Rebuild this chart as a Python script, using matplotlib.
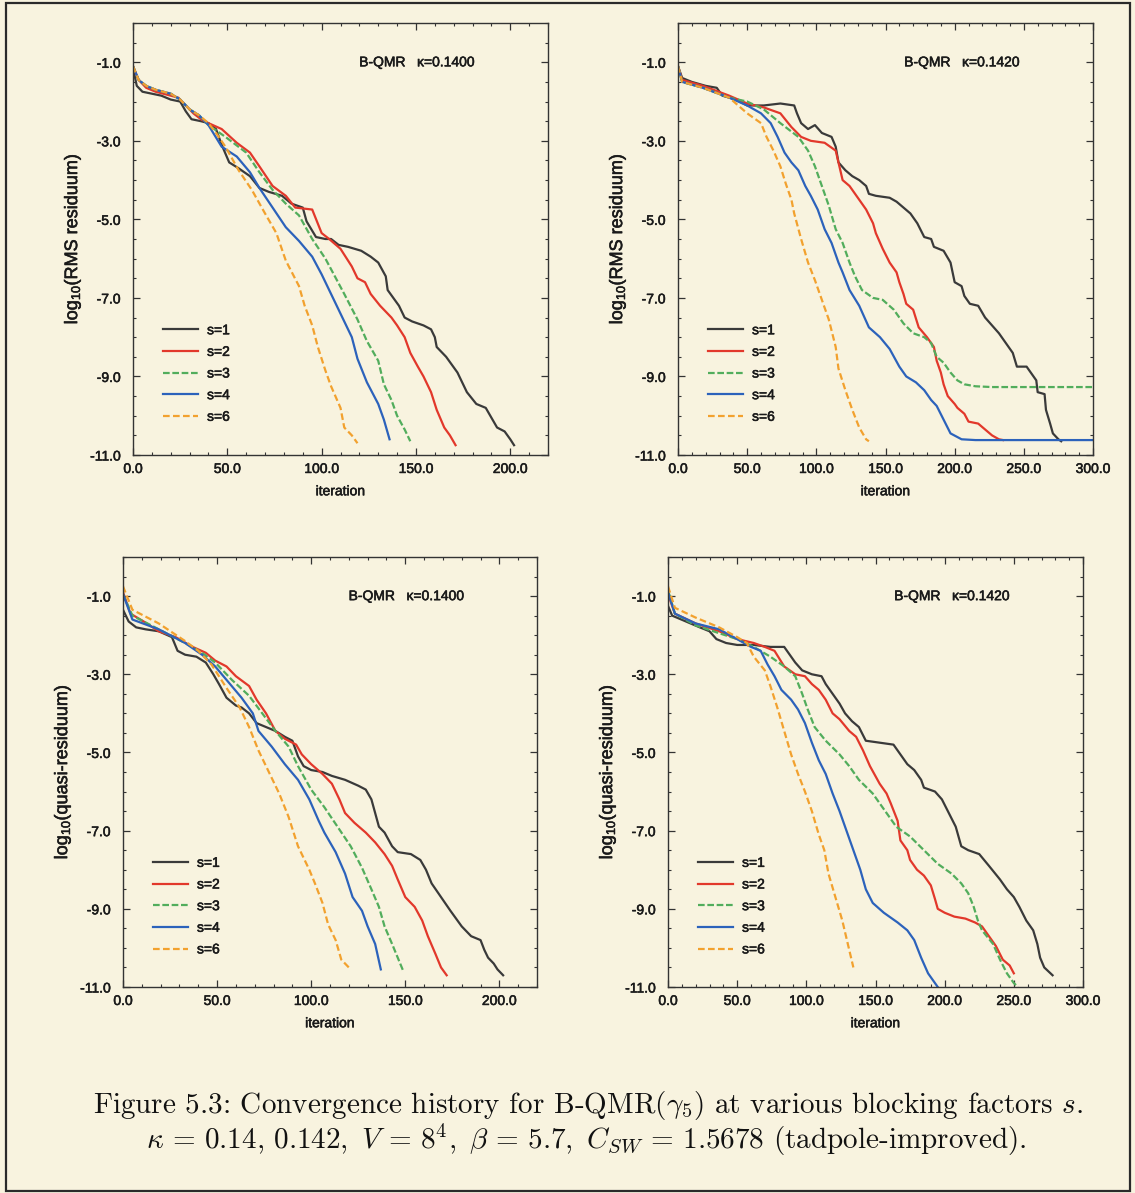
import matplotlib
matplotlib.use("Agg")
import matplotlib.pyplot as plt
import matplotlib.patheffects as pe
from matplotlib.ticker import MultipleLocator, FormatStrFormatter
from matplotlib.patches import Rectangle

plt.rcParams["font.family"] = ["Liberation Sans", "DejaVu Sans"]
plt.rcParams["axes.unicode_minus"] = False
plt.rcParams["mathtext.fontset"] = "custom"
plt.rcParams["mathtext.rm"] = "Liberation Sans"
plt.rcParams["mathtext.it"] = "Liberation Sans:italic"

# (iteration, log10 residual) pairs per blocking factor s

# RMS residuum, kappa = 0.1400
rms140_s1 = [(0, -1.15), (2, -1.6), (5, -1.75), (10, -1.8), (15, -1.85), (20, -1.95), (25, -2.0),
             (28, -2.25), (31, -2.45), (36, -2.5), (40, -2.55), (44, -2.7), (47, -3.1), (51, -3.55),
             (56, -3.7), (62, -3.9), (67, -4.2), (72, -4.3), (79, -4.4), (84, -4.6), (90, -4.7),
             (92, -5.05), (97, -5.45), (102, -5.5), (105, -5.5), (109, -5.65), (114, -5.7),
             (121, -5.8), (126, -5.95), (130, -6.1), (134, -6.45), (135, -6.8), (138, -7.0),
             (141, -7.2), (144, -7.5), (148, -7.6), (154, -7.7), (158, -7.8), (160, -8.0),
             (161, -8.25), (166, -8.5), (172, -8.9), (177, -9.4), (182, -9.7), (187, -9.8),
             (190, -10.05), (193, -10.3), (197, -10.4), (200, -10.6), (202, -10.75)]
rms140_s2 = [(0, -1.1), (3, -1.45), (7, -1.65), (12, -1.75), (20, -1.85), (24, -1.9), (28, -2.1),
             (32, -2.3), (36, -2.45), (40, -2.55), (47, -2.7), (55, -3.05), (62, -3.3), (67, -3.65),
             (74, -4.15), (81, -4.4), (86, -4.7), (95, -4.75), (100, -5.35), (104, -5.5),
             (110, -5.75), (116, -6.2), (119, -6.5), (123, -6.6), (126, -6.9), (131, -7.2),
             (137, -7.5), (140, -7.7), (144, -8.0), (147, -8.4), (151, -8.75), (154, -9.0),
             (158, -9.4), (161, -9.85), (165, -10.3), (168, -10.5), (171, -10.75)]
rms140_s3 = [(0, -1.1), (3, -1.45), (7, -1.6), (12, -1.7), (20, -1.8), (25, -1.95), (30, -2.2),
             (35, -2.35), (40, -2.6), (49, -2.9), (60, -3.3), (67, -3.8), (74, -4.25), (81, -4.6),
             (88, -4.9), (95, -5.5), (102, -6.0), (107, -6.45), (112, -6.9), (119, -7.55),
             (124, -8.1), (130, -8.6), (133, -9.2), (137, -9.6), (140, -10.0), (144, -10.35),
             (147, -10.65)]
rms140_s4 = [(0, -1.1), (3, -1.45), (7, -1.6), (12, -1.7), (20, -1.8), (25, -1.95), (30, -2.2),
             (35, -2.35), (40, -2.6), (47, -3.15), (55, -3.4), (62, -3.8), (67, -4.2), (74, -4.7),
             (81, -5.2), (88, -5.55), (95, -5.95), (100, -6.4), (105, -6.9), (111, -7.5),
             (116, -8.0), (119, -8.55), (124, -9.15), (130, -9.7), (133, -10.1), (136, -10.6)]
rms140_s6 = [(0, -1.1), (3, -1.45), (7, -1.6), (12, -1.7), (20, -1.8), (25, -1.95), (30, -2.2),
             (35, -2.35), (40, -2.55), (44, -2.8), (49, -3.15), (56, -3.75), (63, -4.25),
             (70, -4.85), (76, -5.35), (81, -6.05), (88, -6.7), (91, -7.2), (95, -7.7), (98, -8.25),
             (102, -8.85), (105, -9.25), (110, -9.8), (112, -10.3), (116, -10.5), (119, -10.7)]

# RMS residuum, kappa = 0.1420
rms142_s1 = [(0, -1.1), (3, -1.4), (10, -1.5), (15, -1.55), (20, -1.6), (28, -1.65), (32, -1.85),
             (42, -1.95), (50, -2.1), (62, -2.1), (74, -2.05), (84, -2.1), (86, -2.3), (89, -2.55),
             (94, -2.7), (99, -2.6), (104, -2.8), (111, -2.9), (114, -3.15), (116, -3.55),
             (121, -3.75), (126, -3.9), (131, -4.0), (136, -4.15), (138, -4.35), (143, -4.4),
             (153, -4.45), (158, -4.55), (163, -4.7), (168, -4.85), (173, -5.1), (178, -5.45),
             (183, -5.5), (185, -5.7), (192, -5.8), (197, -6.1), (200, -6.6), (205, -6.7),
             (207, -6.95), (211, -7.15), (217, -7.2), (222, -7.5), (227, -7.7), (232, -7.9),
             (237, -8.15), (242, -8.4), (245, -8.75), (252, -8.75), (255, -8.9), (259, -9.1),
             (260, -9.4), (265, -9.45), (266, -9.85), (269, -10.2), (271, -10.45), (275, -10.6),
             (277, -10.65)]
rms142_s2 = [(0, -1.1), (3, -1.45), (18, -1.6), (37, -1.85), (50, -2.05), (62, -2.15), (74, -2.3),
             (82, -2.65), (89, -2.9), (96, -3.0), (106, -3.05), (114, -3.25), (116, -3.55),
             (119, -4.0), (124, -4.15), (131, -4.5), (136, -4.75), (141, -5.1), (143, -5.35),
             (148, -5.75), (153, -6.1), (158, -6.35), (160, -6.6), (163, -6.9), (165, -7.15),
             (170, -7.3), (174, -7.75), (180, -8.0), (185, -8.25), (187, -8.6), (190, -8.9),
             (192, -9.2), (195, -9.5), (200, -9.7), (202, -9.8), (207, -9.95), (210, -10.15),
             (217, -10.2), (222, -10.35), (227, -10.5), (232, -10.6), (235, -10.62)]
rms142_s3 = [(0, -1.1), (3, -1.5), (18, -1.65), (37, -1.9), (50, -2.0), (62, -2.2), (74, -2.55),
             (87, -2.9), (94, -3.25), (99, -3.65), (104, -4.15), (109, -4.65), (114, -5.25),
             (119, -5.6), (124, -6.1), (128, -6.45), (133, -6.8), (141, -7.0), (148, -7.05),
             (156, -7.3), (163, -7.65), (170, -7.9), (178, -8.0), (183, -8.15), (187, -8.5),
             (192, -8.65), (197, -8.9), (202, -9.1), (207, -9.2), (215, -9.25), (227, -9.27),
             (300, -9.27)]
rms142_s4 = [(0, -1.1), (3, -1.5), (18, -1.65), (37, -1.9), (50, -2.1), (60, -2.3), (67, -2.55),
             (72, -2.9), (77, -3.3), (82, -3.55), (87, -3.75), (92, -4.15), (96, -4.4),
             (101, -4.75), (106, -5.25), (111, -5.6), (116, -6.1), (119, -6.35), (124, -6.8),
             (131, -7.2), (138, -7.75), (146, -8.0), (153, -8.3), (160, -8.75), (165, -9.0),
             (172, -9.15), (178, -9.35), (183, -9.6), (187, -9.75), (192, -10.1), (197, -10.45),
             (205, -10.6), (215, -10.62), (300, -10.62)]
rms142_s6 = [(0, -1.1), (3, -1.5), (18, -1.65), (37, -1.9), (50, -2.3), (60, -2.55), (64, -2.9),
             (69, -3.25), (74, -3.65), (78, -4.1), (82, -4.5), (84, -4.85), (89, -5.5), (94, -6.1),
             (99, -6.55), (104, -7.05), (109, -7.55), (114, -8.25), (116, -8.8), (121, -9.35),
             (126, -9.85), (131, -10.3), (136, -10.6), (138, -10.65)]

# quasi-residuum, kappa = 0.1400
qr140_s1 = [(0, -1.35), (3, -1.65), (7, -1.8), (12, -1.85), (19, -1.9), (26, -2.05), (29, -2.4),
            (33, -2.5), (39, -2.55), (44, -2.7), (48, -3.0), (51, -3.25), (55, -3.6), (60, -3.8),
            (63, -3.85), (67, -4.0), (71, -4.25), (76, -4.35), (81, -4.45), (86, -4.6), (90, -4.7),
            (93, -5.1), (96, -5.35), (100, -5.45), (106, -5.5), (111, -5.6), (118, -5.7),
            (125, -5.85), (129, -5.95), (132, -6.2), (134, -6.55), (136, -6.9), (139, -7.05),
            (143, -7.4), (146, -7.55), (153, -7.6), (158, -7.75), (161, -8.0), (164, -8.35),
            (169, -8.7), (174, -9.05), (180, -9.45), (185, -9.7), (190, -9.8), (192, -10.05),
            (194, -10.25), (197, -10.4), (199, -10.55), (202, -10.7)]
qr140_s2 = [(0, -0.9), (4, -1.45), (11, -1.65), (19, -1.9), (28, -2.05), (37, -2.3), (44, -2.45),
            (49, -2.65), (55, -2.8), (60, -3.05), (67, -3.3), (71, -3.65), (76, -4.0), (81, -4.45),
            (86, -4.65), (92, -4.8), (95, -5.05), (100, -5.3), (106, -5.55), (111, -5.8),
            (115, -6.2), (118, -6.55), (123, -6.8), (129, -7.05), (134, -7.3), (139, -7.6),
            (143, -7.9), (146, -8.25), (150, -8.7), (155, -8.95), (159, -9.3), (162, -9.7),
            (166, -10.15), (169, -10.5), (172, -10.7)]
qr140_s3 = [(0, -0.95), (5, -1.5), (19, -1.85), (33, -2.2), (42, -2.45), (49, -2.7), (58, -3.15),
            (67, -3.55), (74, -4.0), (81, -4.45), (88, -4.85), (93, -5.35), (100, -5.95),
            (107, -6.4), (114, -6.9), (121, -7.4), (127, -7.95), (132, -8.5), (136, -8.95),
            (139, -9.45), (143, -9.9), (146, -10.25), (149, -10.6)]
qr140_s4 = [(0, -0.95), (5, -1.6), (19, -1.85), (33, -2.2), (42, -2.5), (49, -2.8), (56, -3.2),
            (63, -3.6), (69, -4.0), (72, -4.45), (79, -4.85), (86, -5.3), (93, -5.7), (99, -6.2),
            (104, -6.75), (107, -7.05), (113, -7.55), (118, -8.1), (122, -8.7), (127, -9.05),
            (130, -9.45), (134, -9.9), (137, -10.55)]
qr140_s6 = [(0, -0.75), (5, -1.35), (19, -1.7), (33, -2.15), (40, -2.4), (47, -2.75), (55, -3.35),
            (62, -3.85), (67, -4.35), (72, -4.95), (78, -5.55), (83, -6.05), (88, -6.65),
            (93, -7.4), (99, -8.0), (102, -8.35), (106, -8.85), (109, -9.4), (113, -9.8),
            (116, -10.3), (120, -10.5)]

# quasi-residuum, kappa = 0.1420
qr142_s1 = [(0, -1.25), (3, -1.5), (13, -1.65), (23, -1.8), (30, -1.9), (35, -2.1), (42, -2.2),
            (50, -2.25), (62, -2.25), (74, -2.3), (84, -2.3), (87, -2.45), (92, -2.7), (97, -2.9),
            (104, -3.0), (111, -3.05), (114, -3.25), (119, -3.5), (124, -3.75), (128, -4.0),
            (133, -4.2), (138, -4.35), (143, -4.7), (153, -4.75), (163, -4.8), (168, -5.05),
            (173, -5.3), (178, -5.45), (183, -5.7), (185, -5.9), (193, -6.0), (198, -6.2),
            (203, -6.55), (208, -6.9), (212, -7.4), (217, -7.5), (225, -7.6), (232, -7.9),
            (240, -8.25), (245, -8.5), (250, -8.7), (254, -8.95), (259, -9.3), (264, -9.55),
            (267, -9.9), (269, -10.25), (272, -10.5), (278, -10.7)]
qr142_s2 = [(0, -0.95), (5, -1.45), (20, -1.7), (37, -1.9), (50, -2.1), (62, -2.2), (70, -2.3),
            (77, -2.4), (84, -2.8), (92, -3.0), (99, -3.05), (104, -3.25), (109, -3.4),
            (114, -3.65), (119, -4.0), (124, -4.15), (131, -4.45), (136, -4.6), (141, -4.95),
            (146, -5.35), (153, -5.8), (158, -6.05), (161, -6.3), (166, -6.75), (168, -7.25),
            (173, -7.5), (175, -7.75), (180, -8.0), (185, -8.15), (190, -8.4), (193, -8.75),
            (195, -9.0), (200, -9.1), (207, -9.2), (215, -9.25), (222, -9.35), (227, -9.45),
            (232, -9.7), (237, -9.95), (242, -10.3), (247, -10.45), (250, -10.65)]
qr142_s3 = [(0, -0.85), (5, -1.45), (20, -1.75), (37, -1.95), (50, -2.1), (62, -2.3), (74, -2.55),
            (84, -2.8), (92, -3.05), (97, -3.5), (101, -3.9), (106, -4.35), (114, -4.7),
            (124, -5.05), (131, -5.35), (138, -5.7), (148, -6.05), (158, -6.55), (165, -6.9),
            (175, -7.15), (185, -7.5), (195, -7.85), (205, -8.1), (212, -8.35), (217, -8.6),
            (221, -8.95), (224, -9.3), (227, -9.55), (235, -9.9), (240, -10.3), (245, -10.65),
            (250, -10.9), (253, -11.0)]
qr142_s4 = [(0, -0.9), (5, -1.45), (20, -1.7), (37, -1.85), (50, -2.1), (60, -2.3), (67, -2.4),
            (72, -2.75), (77, -3.05), (82, -3.4), (89, -3.65), (94, -3.9), (99, -4.25),
            (104, -4.75), (109, -5.2), (114, -5.55), (119, -6.05), (124, -6.5), (129, -7.0),
            (134, -7.5), (139, -8.0), (143, -8.5), (148, -8.85), (156, -9.1), (166, -9.35),
            (173, -9.55), (178, -9.8), (183, -10.25), (188, -10.65), (192, -10.85), (195, -11.0)]
qr142_s6 = [(0, -0.75), (5, -1.3), (20, -1.55), (37, -1.8), (50, -2.05), (57, -2.2), (62, -2.55),
            (70, -2.9), (74, -3.3), (79, -3.85), (84, -4.45), (89, -5.05), (94, -5.55),
            (99, -6.0), (104, -6.5), (109, -7.1), (113, -7.5), (116, -8.1), (121, -8.7),
            (126, -9.3), (130, -9.9), (134, -10.5)]

labels = ["s=1", "s=2", "s=3", "s=4", "s=6"]
colors = ["#3a3a3a", "#e2382b", "#52ad5c", "#2c62bb", "#f2a12e"]
dashes = [None, None, (3, 1.2), None, (3, 1.5)]

panels = [
    dict(series=[rms140_s1, rms140_s2, rms140_s3, rms140_s4, rms140_s6], xmax=220,
         ylabel=r"log$_{10}$(RMS residuum)", tag="B-QMR   \u03ba=0.1400",
         rect=(133, 23, 548, 455)),
    dict(series=[rms142_s1, rms142_s2, rms142_s3, rms142_s4, rms142_s6], xmax=300,
         ylabel=r"log$_{10}$(RMS residuum)", tag="B-QMR   \u03ba=0.1420",
         rect=(678, 23, 1093, 455)),
    dict(series=[qr140_s1, qr140_s2, qr140_s3, qr140_s4, qr140_s6], xmax=220,
         ylabel=r"log$_{10}$(quasi-residuum)", tag="B-QMR   \u03ba=0.1400",
         rect=(123, 557, 537, 987)),
    dict(series=[qr142_s1, qr142_s2, qr142_s3, qr142_s4, qr142_s6], xmax=300,
         ylabel=r"log$_{10}$(quasi-residuum)", tag="B-QMR   \u03ba=0.1420",
         rect=(668, 557, 1083, 987)),
]

W, H = 1135, 1193
bg = "#f8f3df"
ink = "#1a1a1a"
# slightly heavier strokes for the sans-serif labels
bold = [pe.withStroke(linewidth=0.4, foreground=ink)]

fig = plt.figure(figsize=(W / 100, H / 100), dpi=100, facecolor=bg)

for p in panels:
    x0, y0, x1, y1 = p["rect"]
    ax = fig.add_axes([x0 / W, 1 - y1 / H, (x1 - x0) / W, (y1 - y0) / H])
    ax.set_facecolor("none")
    for data, lab, col, dsh in zip(p["series"], labels, colors, dashes):
        it = [d[0] for d in data]
        res = [d[1] for d in data]
        line, = ax.plot(it, res, color=col, lw=1.6, label=lab)
        if dsh is not None:
            line.set_dashes(dsh)
    ax.set_xlim(0, p["xmax"])
    ax.set_ylim(-11, 0)
    ax.xaxis.set_major_locator(MultipleLocator(50))
    ax.xaxis.set_minor_locator(MultipleLocator(10))
    ax.set_yticks([-11, -9, -7, -5, -3, -1])
    ax.yaxis.set_minor_locator(MultipleLocator(0.5))
    ax.xaxis.set_major_formatter(FormatStrFormatter("%.1f"))
    ax.yaxis.set_major_formatter(FormatStrFormatter("%.1f"))
    ax.tick_params(which="both", direction="in", top=True, right=True,
                   colors="#333333", labelcolor=ink, labelsize=10)
    ax.tick_params(which="major", length=5, width=0.9)
    ax.tick_params(which="minor", length=2.5, width=0.8)
    ax.tick_params(axis="x", pad=5)
    ax.tick_params(axis="y", pad=9)
    for sp in ax.spines.values():
        sp.set_color("#333333")
        sp.set_linewidth(1.0)
    ax.set_xlabel("iteration", fontsize=10, color=ink, labelpad=6)
    ax.set_ylabel(p["ylabel"], fontsize=13, color=ink, labelpad=5)
    ax.text(0.545, 0.909, p["tag"], transform=ax.transAxes, fontsize=10,
            color=ink, va="center", ha="left", path_effects=bold)
    leg = ax.legend(loc="upper left", bbox_to_anchor=(0.073, 0.305), frameon=False,
                    fontsize=10, handlelength=2.5, handletextpad=0.65,
                    labelspacing=0.55, borderpad=0, borderaxespad=0)
    for t in leg.get_texts():
        t.set_color(ink)
        t.set_path_effects(bold)
    for t in ax.get_xticklabels() + ax.get_yticklabels():
        t.set_path_effects(bold)
    ax.xaxis.label.set_path_effects(bold)
    ax.yaxis.label.set_path_effects(bold)

# page frame
fig.patches.append(Rectangle((6 / W, 0.002), 1124 / W, 1 - 3 / H - 0.002,
                             transform=fig.transFigure, fill=False,
                             edgecolor="#2a2a2a", lw=1.6))

cap1 = r"Figure 5.3: Convergence history for B-QMR($\gamma_5$) at various blocking factors $s$."
cap2 = (r"$\kappa\,=\,0.14,\,0.142,\ V\,=\,8^4,\ \beta\,=\,5.7,\ C_{SW}\,=\,1.5678$"
        r" (tadpole-improved).")
fig.text(588 / W, 1 - 1105 / H, cap1, ha="center", va="center", fontsize=21,
         family="cmr10", math_fontfamily="cm", color="#111111")
fig.text(586 / W, 1 - 1140 / H, cap2, ha="center", va="center", fontsize=21,
         family="cmr10", math_fontfamily="cm", color="#111111")

fig.savefig("out.png", dpi=100, facecolor=bg)
